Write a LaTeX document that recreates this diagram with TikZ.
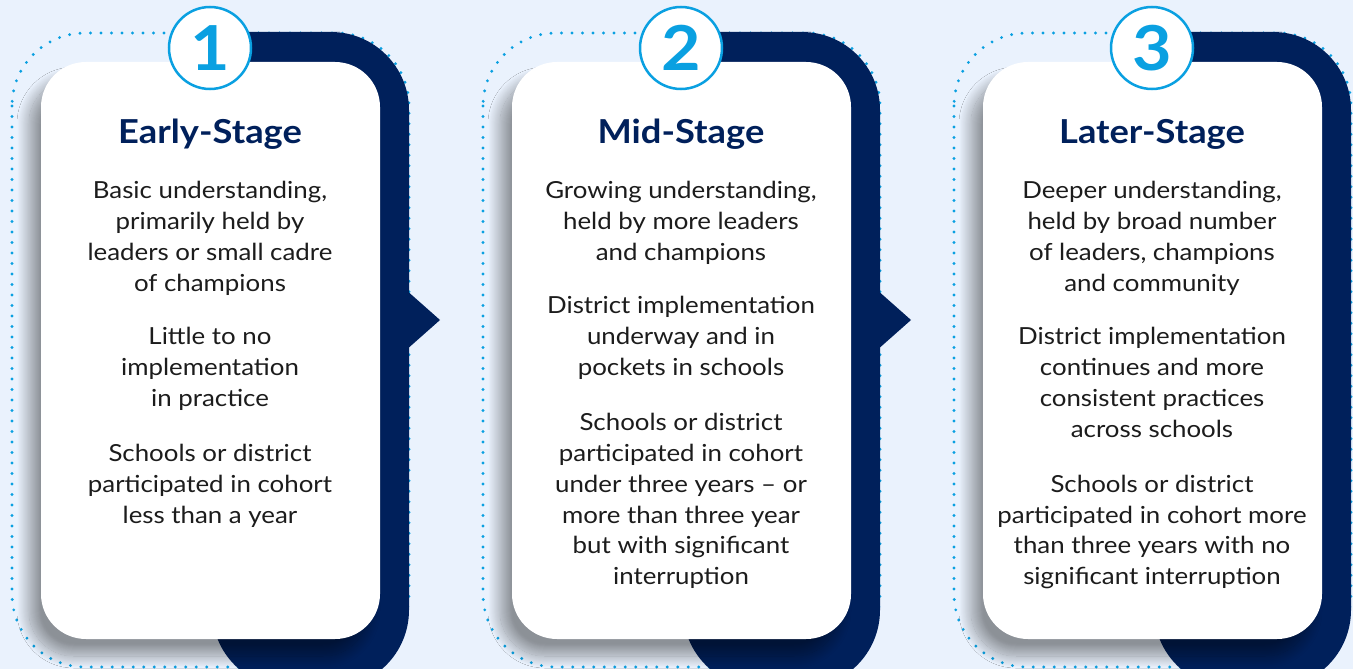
\documentclass[tikz,border=0pt]{standalone}
\usepackage{fontspec}
\setmainfont{Lato}[FakeStretch=1.1]
\usetikzlibrary{positioning,shadows.blur}

\definecolor{navy}{HTML}{00205B}
\definecolor{sky}{HTML}{0AA0E1}
\definecolor{paper}{HTML}{EAF2FD}
\definecolor{ink}{HTML}{1C1C1C}

\tikzset{
  card/.style={fill=white, rounded corners=45pt, minimum width=339pt, minimum height=577pt, inner sep=0pt,
    blur shadow={shadow xshift=-12pt, shadow yshift=-17pt, shadow blur radius=12pt, shadow blur steps=24,
      shadow opacity=40}},
  badge/.style={circle, draw=sky, line width=2.5pt, fill=white, minimum size=82pt, inner sep=0pt,
    text=sky, font=\fontsize{62}{62}\selectfont\bfseries},
  stagetitle/.style={text=navy, font=\fontsize{33}{38}\selectfont\bfseries, inner sep=0pt},
  blurb/.style={align=center, text=ink, font=\fontsize{23.5}{30.8}\selectfont, inner sep=0pt},
  dotring/.style={sky, line width=3.2pt, line cap=round, dash pattern=on 0pt off 10.5pt, rounded corners=73pt},
}

\begin{document}
\begin{tikzpicture}[x=1pt, y=-1pt]
  \useasboundingbox (0,0) rectangle (1353,669);
  \fill[paper] (0,0) rectangle (1353,669);

  % Frames, cards and number badges
  \foreach \i in {1,2,3} {
    \pgfmathsetmacro\dx{(\i-1)*471}
    \draw[dotring] (\dx+12,33) rectangle (\dx+409,667);
    \fill[navy] (\dx+212,32) -- (\dx+340,32) [rounded corners=78pt] -- (\dx+409,32) -- (\dx+409,688) -- (\dx+212,688) [sharp corners] -- (\dx+212,200) -- cycle;
    \ifnum\i<3
      \fill[navy] (\dx+405,289) -- (\dx+440,320) -- (\dx+405,351) -- cycle;
    \fi
    \node[card] (card\i) at (\dx+210.5,350.5) {};
    \node[badge] (badge\i) at (\dx+210,48) {\i};
  }

  % Early-Stage
  \node[stagetitle, anchor=base] (title1) at (210,143) {Early-Stage};
  \node[blurb, below=27.7pt of title1] (grasp1) {\strut Basic understanding,\\primarily held by\\leaders or small cadre\\of champions\strut};
  \node[blurb, below=22.5pt of grasp1] (practice1) {\strut Little to no\\implementation\\in practice\strut};
  \node[blurb, below=24pt of practice1] (cohort1) {\strut Schools or district\\participated in cohort\\less than a year\strut};

  % Mid-Stage
  \node[stagetitle, anchor=base] (title2) at (681,143) {Mid-Stage};
  \node[blurb, below=27.7pt of title2] (grasp2) {\strut Growing understanding,\\held by more leaders\\and champions\strut};
  \node[blurb, below=22.5pt of grasp2] (practice2) {\strut District implementation\\underway and in\\pockets in schools\strut};
  \node[blurb, below=24pt of practice2] (cohort2) {\strut Schools or district\\participated in cohort\\under three years -- or\\more than three year\\but with significant\\interruption\strut};

  % Later-Stage
  \node[stagetitle, anchor=base] (title3) at (1152,143) {Later-Stage};
  \node[blurb, below=27.7pt of title3] (grasp3) {\strut Deeper understanding,\\held by broad number\\of leaders, champions\\and community\strut};
  \node[blurb, below=22.5pt of grasp3] (practice3) {\strut District implementation\\continues and more\\consistent practices\\across schools\strut};
  \node[blurb, below=24pt of practice3] (cohort3) {\strut Schools or district\\participated in cohort more\\than three years with no\\significant interruption\strut};
\end{tikzpicture}
\end{document}
